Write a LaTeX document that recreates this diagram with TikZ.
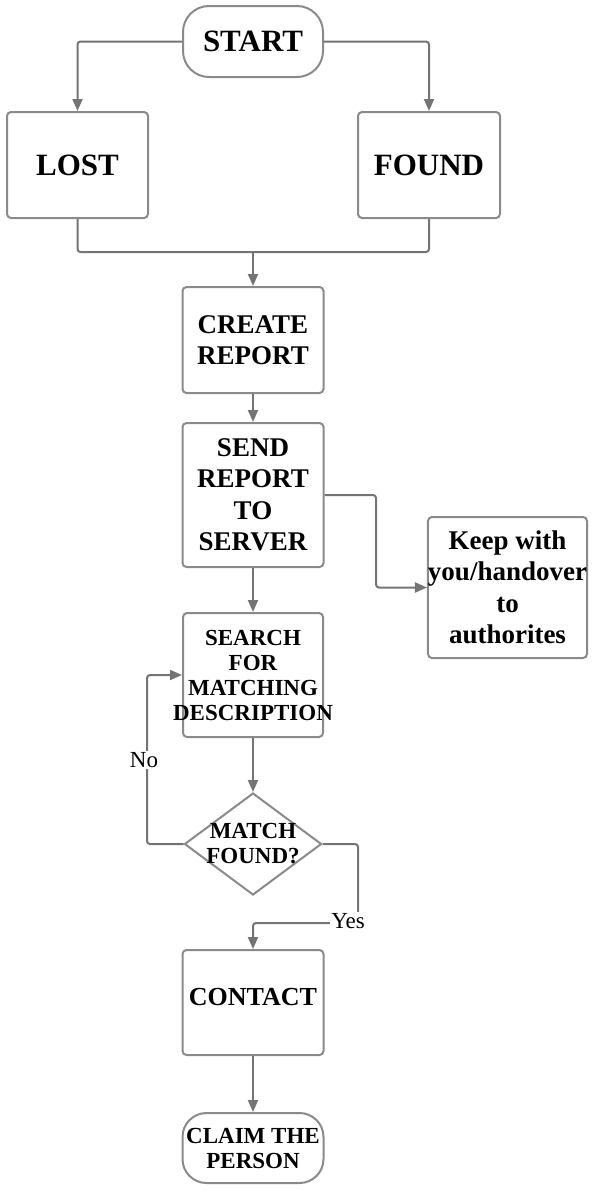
\documentclass[tikz,border=0pt]{standalone}
\usepackage{fontspec}
\setmainfont{Liberation Serif}
\usetikzlibrary{shapes.geometric,arrows.meta,positioning,calc}
\definecolor{boxgray}{HTML}{8A8A8A}
\definecolor{linegray}{HTML}{747474}

\begin{document}
\begin{tikzpicture}[x=1pt,y=-1pt,
    box/.style={draw=boxgray,line width=2pt,rounded corners=4pt,inner sep=0pt,align=center},
    term/.style={box,rounded corners=26pt},
    big/.style={font=\fontsize{31}{35}\selectfont\bfseries},
    mid/.style={font=\fontsize{27}{31.5}\selectfont\bfseries},
    small/.style={font=\fontsize{23}{25}\selectfont\bfseries},
    line/.style={draw=linegray,line width=2pt,rounded corners=3pt},
    arr/.style={line,-{Triangle[length=12pt,width=10pt]}},
    lbl/.style={fill=white,inner sep=1pt,font=\fontsize{23}{25}\selectfont}]
    \useasboundingbox (0,0) rectangle (597,1191);

    % Start, lost and found
    \node[term,big,minimum width=140pt,minimum height=71pt] (start) at (253,41.5) {START};
    \node[box,big,minimum width=141pt,minimum height=106pt] (lost) at (77.5,165) {LOST};
    \node[box,big,minimum width=142pt,minimum height=106pt] (found) at (429,165) {FOUND};

    % Report
    \node[box,mid,minimum width=141pt,minimum height=106pt] (create) at (253,340) {CREATE\\REPORT};
    \node[box,mid,minimum width=141pt,minimum height=144pt] (send) at (253,495) {SEND\\REPORT\\TO\\SERVER};
    \node[box,mid,minimum width=159pt,minimum height=141pt] (keep) at (507.5,587.5) {Keep with\\you/handover\\to\\authorites};

    % Search and match
    \node[box,minimum width=140pt,minimum height=124pt] (search) at (253,675) {};
    \node[small,align=center] (searchtxt) at (search.center) {SEARCH\\FOR\\MATCHING\\DESCRIPTION};
    \node[draw=boxgray,line width=2pt,diamond,inner sep=0pt,minimum width=137pt,minimum height=102pt] (match) at (253,844) {};
    \node[small,align=center] (matchtxt) at (match.center) {MATCH\\FOUND?};

    % Contact and claim
    \node[box,minimum width=141pt,minimum height=105pt] (contact) at (253,1002.5) {};
    \node[font=\fontsize{26}{30}\selectfont\bfseries] (contacttxt) at ([yshift=5pt]contact.center) {CONTACT};
    \node[term,small,rounded corners=24pt,minimum width=141pt,minimum height=70pt] (claim) at (253,1148) {CLAIM THE\\PERSON};

    % Connectors
    \draw[arr] (start.west) -| (lost.north);
    \draw[arr] (start.east) -| (found.north);
    \coordinate (join) at (253,252);
    \draw[line] (lost.south) |- (join) -| (found.south);
    \draw[arr] (join) -- (create.north);
    \draw[arr] (create.south) -- (send.north);
    \coordinate (sendbend) at (376,495);
    \draw[arr] (send.east) -- (sendbend) |- (keep.west);
    \draw[arr] (send.south) -- (search.north);
    \draw[arr] (search.south) -- (match.north);

    % No loop
    \coordinate (nobend) at (147,844);
    \draw[arr] (match.west) -- (nobend) |- (search.west);
    \node[lbl] (no) at (144,760) {No};

    % Yes branch
    \coordinate (yesbend) at (358,923);
    \draw[arr] (match.east) -| (yesbend) -| (contact.north);
    \node[lbl] (yes) at (348,921) {Yes};
    \draw[arr] (contact.south) -- (claim.north);
\end{tikzpicture}
\end{document}
